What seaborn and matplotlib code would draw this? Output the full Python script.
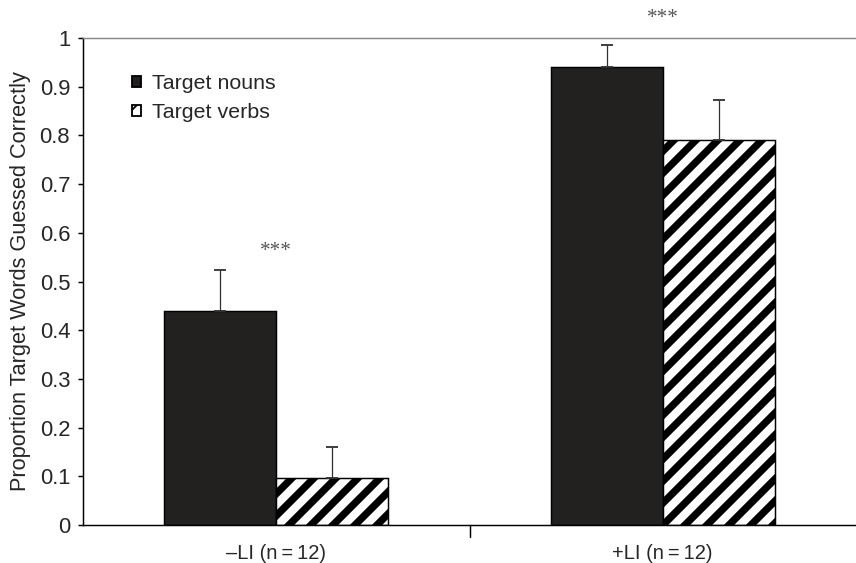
import matplotlib
matplotlib.use("Agg")
import matplotlib.pyplot as plt
import seaborn as sns
import pandas as pd
from matplotlib.patches import Patch

groups = ["\u2013LI (n\u2009=\u200912)", "+LI (n\u2009=\u200912)"]
series = ["Target nouns", "Target verbs"]
nouns = [0.44, 0.94]
verbs = [0.097, 0.79]
nouns_err = [0.083, 0.045]
verbs_err = [0.063, 0.082]
yticks = [0, 0.1, 0.2, 0.3, 0.4, 0.5, 0.6, 0.7, 0.8, 0.9, 1]
ytick_labels = ["0", "0.1", "0.2", "0.3", "0.4", "0.5", "0.6", "0.7", "0.8", "0.9", "1"]
sig_labels = ["***", "***"]
sig_y = [0.562, 1.04]

df = pd.DataFrame({
    "group": groups * 2,
    "series": [series[0]] * 2 + [series[1]] * 2,
    "value": nouns + verbs,
})

sns.set_style("white")
plt.rcParams["font.family"] = ["Liberation Sans", "DejaVu Sans"]
plt.rcParams["hatch.linewidth"] = 4.0
plt.rcParams["hatch.color"] = "black"

DPI = 132
fig = plt.figure(figsize=(856 / DPI, 563 / DPI), dpi=DPI)
ax = fig.add_axes([83 / 856, 1 - 525 / 563, 1 - 83 / 856, (525 - 38) / 563])

sns.barplot(data=df, x="group", y="value", hue="series", order=groups,
            hue_order=series, palette=["#231f20", "white"], width=0.58,
            errorbar=None, edgecolor="black", linewidth=0.8, ax=ax, legend=False)

for p in ax.containers[1]:
    p.set_hatch("//")
    p.set_facecolor("white")
    p.set_edgecolor("black")

for cont, errs in zip(ax.containers, [nouns_err, verbs_err]):
    for p, e in zip(cont, errs):
        xc = p.get_x() + p.get_width() / 2
        h = p.get_height()
        ax.errorbar([xc], [h], yerr=[[0], [e]], fmt="none", ecolor="#333333",
                    elinewidth=0.7, capsize=3.5, capthick=1.0, zorder=3)

for i, (lab, yy) in enumerate(zip(sig_labels, sig_y)):
    ax.text(i, yy, lab, ha="center", va="center", fontsize=11.5,
            family=["Liberation Serif", "DejaVu Serif"], color="#555555", clip_on=False)

ax.set_ylim(0, 1)
ax.set_xlim(-0.5, 1.5)
ax.set_yticks(yticks)
ax.set_yticklabels(ytick_labels)
ax.set_xticks([0, 1])
ax.set_xticklabels(groups)
ax.set_xlabel("")
ax.set_ylabel("Proportion Target Words Guessed Correctly", fontsize=11.9, labelpad=4.5)
ax.tick_params(axis="y", labelsize=12, direction="out", length=3, width=0.8, left=True, color="black", pad=4)
ax.tick_params(axis="x", labelsize=11, bottom=False, pad=7)
ax.axvline(0.5, ymin=-0.025, ymax=0, color="black", lw=0.8, clip_on=False)

for s in ["left", "bottom"]:
    ax.spines[s].set_color("black")
    ax.spines[s].set_linewidth(0.8)
ax.spines["top"].set_color("#888888")
ax.spines["top"].set_linewidth(0.8)
ax.spines["right"].set_visible(False)

plt.rcParams["hatch.linewidth"] = 1.0
handles = [Patch(facecolor="#231f20", edgecolor="black", label=series[0]),
           Patch(facecolor="white", edgecolor="black", hatch="//", label=series[1])]
leg = ax.legend(handles=handles, loc="upper left", bbox_to_anchor=(0.052, 0.943),
                frameon=False, fontsize=11.7, handlelength=0.45, handleheight=0.45,
                handletextpad=0.5, labelspacing=0.45, borderaxespad=0)

fig.savefig("out.png", dpi=DPI)
